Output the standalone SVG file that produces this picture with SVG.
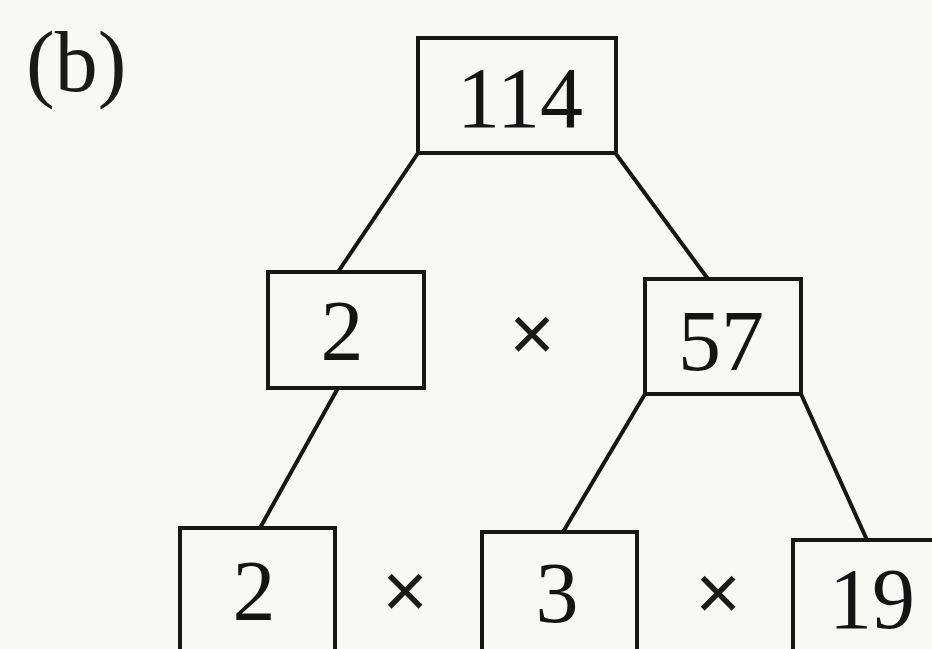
<svg xmlns="http://www.w3.org/2000/svg" width="932" height="649" viewBox="0 0 932 649">
  <style>
    .box { fill: none; stroke: #161616; stroke-width: 4; }
    .num { font-family: "Liberation Serif", "Times New Roman", serif; font-size: 86px; fill: #141414; text-anchor: middle; }
    .op { font-family: "Liberation Serif", "Times New Roman", serif; font-size: 80px; fill: #1a1a1a; stroke: #1a1a1a; stroke-width: 1.5; text-anchor: middle; }
    .edge { stroke: #161616; stroke-width: 4; fill: none; stroke-linecap: round; }
  </style>
  <rect width="932" height="649" fill="#f8f8f6"/>
  <text x="26" y="91" font-family="Liberation Serif, Times New Roman, serif" font-size="86" fill="#1a1a1a">(b)</text>
  <g id="connectors">
    <line class="edge" x1="418" y1="153" x2="338" y2="272"/>
    <line class="edge" x1="616" y1="154" x2="708" y2="279"/>
    <line class="edge" x1="338" y1="388" x2="260" y2="528"/>
    <line class="edge" x1="645" y1="394" x2="563" y2="532"/>
    <line class="edge" x1="801" y1="394" x2="867" y2="540"/>
  </g>
  <g id="n114">
    <rect class="box" x="418" y="38" width="198" height="115"/>
    <text class="num" x="520" y="127">114</text>
  </g>
  <g id="n2a">
    <rect class="box" x="268" y="272" width="156" height="116"/>
    <text class="num" x="342" y="360">2</text>
  </g>
  <g id="times1"><text class="op" x="532" y="361">×</text></g>
  <g id="n57">
    <rect class="box" x="645" y="279" width="156" height="115"/>
    <text class="num" x="721" y="370">57</text>
  </g>
  <g id="n2b">
    <rect class="box" x="180" y="528" width="155" height="130"/>
    <text class="num" x="254" y="620">2</text>
  </g>
  <g id="times2"><text class="op" x="405" y="618">×</text></g>
  <g id="n3">
    <rect class="box" x="482" y="532" width="155" height="130"/>
    <text class="num" x="557" y="622">3</text>
  </g>
  <g id="times3"><text class="op" x="718" y="620">×</text></g>
  <g id="n19">
    <rect class="box" x="793" y="540" width="160" height="130"/>
    <text class="num" x="872" y="628">19</text>
  </g>
</svg>
